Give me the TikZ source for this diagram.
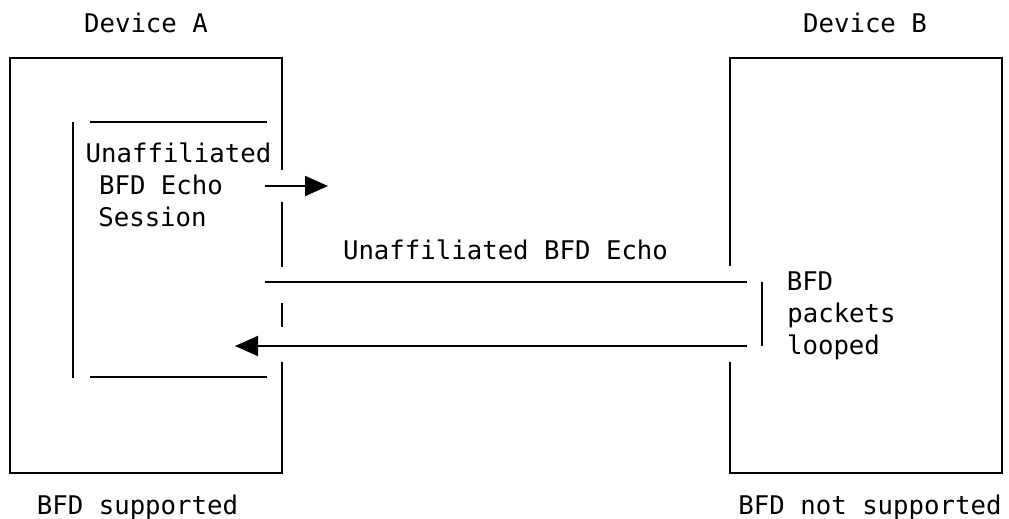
\documentclass[tikz,border=0pt]{standalone}
\usepackage{fontspec}
\newfontfamily\codefont{DejaVu Sans Mono}
\usetikzlibrary{arrows.meta}

\begin{document}
\begin{tikzpicture}[x=1pt,y=-1pt,line width=2pt,
  txt/.style={inner sep=0pt,anchor=base,font=\codefont\fontsize{25.7}{32}\selectfont},
  >={Triangle[length=23pt,width=20pt]}]
  \useasboundingbox (0,0) rectangle (1009,519);

  % Device A
  \draw (282,170) -- (282,58) -- (10,58) -- (10,473) -- (282,473) -- (282,362);
  \draw (282,202) -- (282,267) (282,303) -- (282,327);
  % sesiunea
  \draw (73,122) -- (73,378) (90,122) -- (267,122) (90,377) -- (267,377);

  % Device B
  \draw (730,266) -- (730,58) -- (1002,58) -- (1002,473) -- (730,473) -- (730,362);
  \draw (762,282) -- (762,346);

  % texte
  \node[txt] (devA) at (146,33) {Device A};
  \node[txt] (devB) at (865,33) {Device B};
  \node[txt] (suppA) at (137.5,514) {BFD supported};
  \node[txt] (suppB) at (870,514) {BFD not supported};
  \node[txt] (echoLbl) at (505.5,259) {Unaffiliated BFD Echo};
  \node[txt] (sess1) at (178.5,162) {Unaffiliated};
  \node[txt] (sess2) at (161,194) {BFD Echo};
  \node[txt] (sess3) at (152.5,226) {Session};
  \node[txt] (loop1) at (810,290) {BFD};
  \node[txt] (loop2) at (841.5,322) {packets};
  \node[txt] (loop3) at (833.5,354) {looped};

  % ecoul
  \coordinate (sessOut) at (265,186);
  \coordinate (sessTip) at (328,186);
  \coordinate (echoA) at (265,282);
  \coordinate (echoB) at (747,282);
  \coordinate (loopB) at (747,346);
  \coordinate (loopTip) at (235,346);
  \draw[->] (sessOut) -- (sessTip);
  \draw (echoA) -- (echoB);
  \draw[->] (loopB) -- (loopTip);
\end{tikzpicture}
\end{document}
